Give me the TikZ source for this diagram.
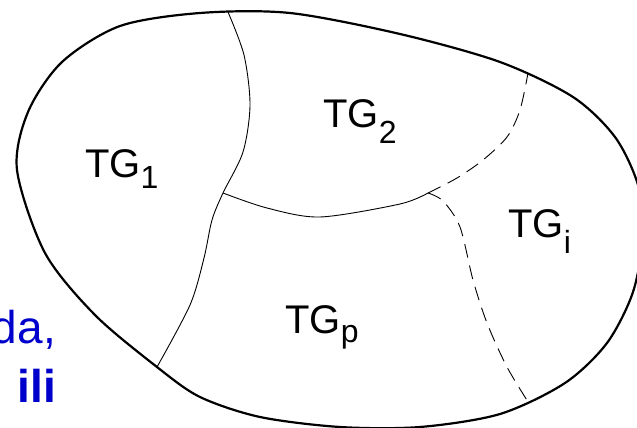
\documentclass[tikz,border=0pt]{standalone}
\usepackage{fontspec}
\setmainfont{Liberation Sans}
\definecolor{textblue}{RGB}{0,0,204}
\tikzset{
  outline/.style={line width=2.2pt, line join=round},
  border/.style={line width=0.9pt},
  openborder/.style={line width=0.9pt, dash pattern=on 14pt off 8pt},
  region/.style={inner sep=0pt, anchor=base west, font=\fontsize{40}{40}\selectfont},
  aside/.style={inner sep=0pt, anchor=base east, text=textblue, font=\fontsize{46}{46}\selectfont},
}
% subscript in smaller type, dropped below the baseline
\newcommand{\regsub}[2]{\raisebox{-#1pt}{\fontsize{32}{32}\selectfont #2}}
\begin{document}
\begin{tikzpicture}[x=1pt, y=-1pt]
\path[use as bounding box] (0,0) rectangle (637,428);
\clip (0,0) rectangle (637,428);

% outer boundary of the domain
\draw[outline] plot[smooth cycle] coordinates {
  (17,170) (28,112) (62,62) (120,26) (200,13)
  (290,13) (400,34) (500,62) (573,97) (615,137)
  (638,185) (643,235) (633,292) (607,343) (565,383) (500,414)
  (420,427) (340,427) (260,417) (200,397)
  (157,367) (95,315) (45,253)};

% junctions of the internal boundaries
\coordinate (j1) at (223,193);
\coordinate (j2) at (428,193);
\coordinate (topA) at (228,12);
\coordinate (botA) at (157,367);
\coordinate (topC) at (528,73);
\coordinate (botD) at (530,405);

% internal boundaries
\draw[border] plot[smooth] coordinates {
  (topA) (244,55) (250,105) (243,152) (j1) (212,220) (204,258)
  (190,305) (botA)};
\draw[border] plot[smooth] coordinates {
  (j1) (267,208) (320,217) (400,204) (j2)};
\draw[openborder] plot[smooth] coordinates {
  (j2) (457,178) (483,160) (507,137) (520,110) (topC)};
\draw[openborder] plot[smooth] coordinates {
  (j2) (443,201) (460,227) (473,280) (487,323) (507,367) (botD)};

% region labels
\node[region] (tg1) at (85,177) {TG\regsub{11}{1}};
\node[region] (tg2) at (323,127) {TG\regsub{16}{2}};
\node[region] (tgi) at (508,237) {TG\regsub{16}{i}};
\node[region] (tgp) at (285,333) {TG\regsub{9}{p}};

% side text
\node[aside] (da) at (56,343) {da,};
\node[aside] (ili) at (56,402) {\bfseries ili};
\end{tikzpicture}
\end{document}
